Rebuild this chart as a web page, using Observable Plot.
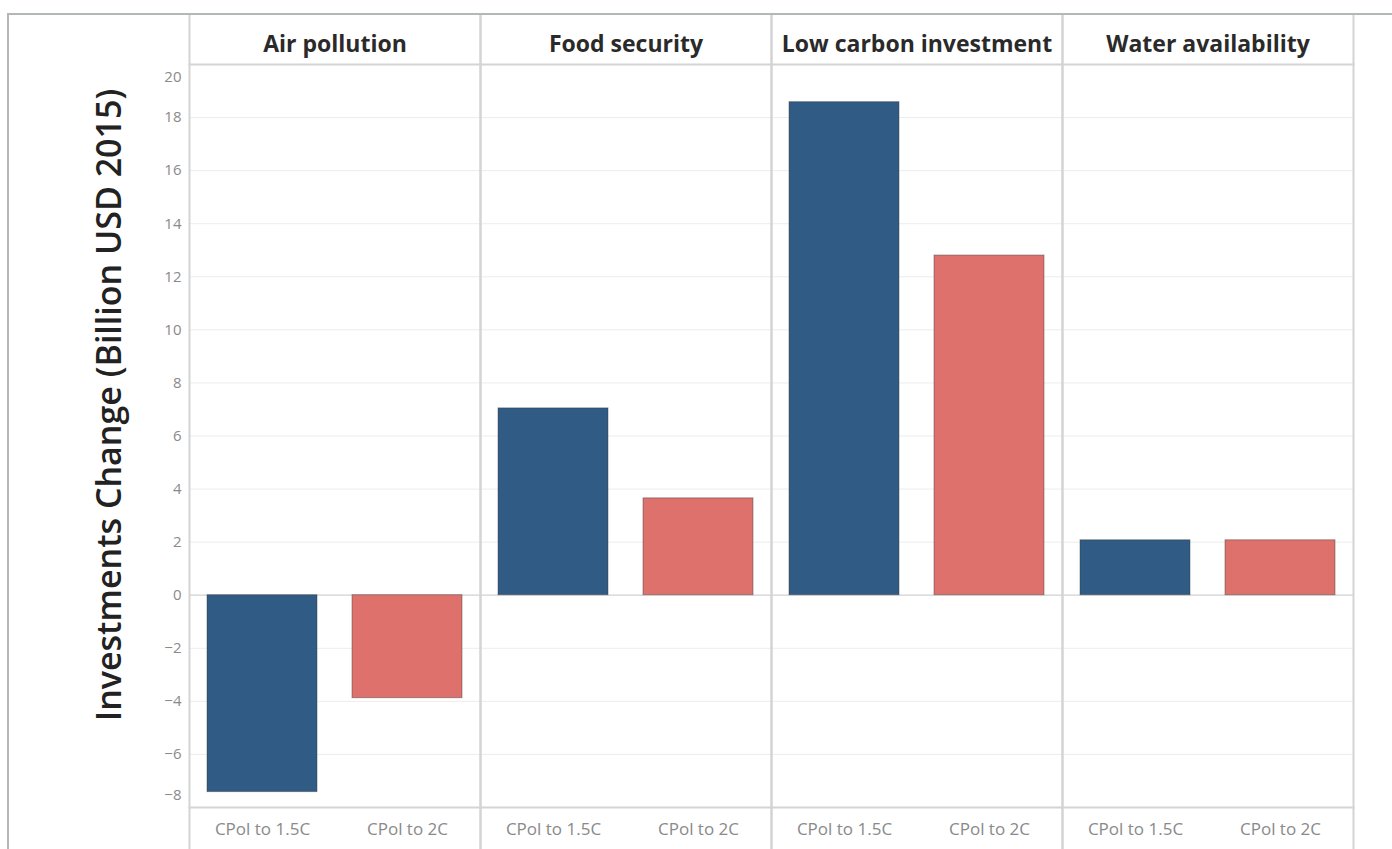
<!DOCTYPE html>
<html><head><meta charset="utf-8">
<script src="https://cdn.jsdelivr.net/npm/d3@7"></script>
<script src="https://cdn.jsdelivr.net/npm/@observablehq/plot@0.6"></script>
<style>
body{margin:0;background:#fff;}
#chart{position:absolute;left:7px;top:13px;border-top:2px solid #b3b8b6;border-left:2px solid #b3b8b6;}
#chart svg{display:block;}
</style></head><body><div id="chart"></div>
<script>
const categories = ["Air pollution", "Food security", "Low carbon investment", "Water availability"];
const scenarios = ["CPol to 1.5C", "CPol to 2C"];
const valuesTo15 = [-7.42, 7.04, 18.58, 2.07];
const valuesTo2 = [-3.88, 3.65, 12.8, 2.07];
const yTicks = [-8, -6, -4, -2, 0, 2, 4, 6, 8, 10, 12, 14, 16, 18, 20];
const yTitle = "Investments Change (Billion USD 2015)";
const colors = ["#2f5b84", "#df716d"];

const data = categories.flatMap((c, i) => [
  {category: c, scenario: scenarios[0], value: valuesTo15[i]},
  {category: c, scenario: scenarios[1], value: valuesTo2[i]}
]);

const lineColor = "#d4d4d4";
const font = "'Open Sans', sans-serif";

const chart = Plot.plot({
  width: 1383,
  height: 834,
  marginLeft: 179,
  marginRight: 39,
  marginTop: 49,
  marginBottom: 42,
  style: {fontFamily: font, background: "#fff"},
  fx: {domain: categories, padding: 0, label: null},
  x: {domain: scenarios, paddingInner: 0.24, paddingOuter: 0.12, label: null},
  y: {domain: [-8, 20], label: null},
  color: {domain: scenarios, range: colors},
  marks: [
    Plot.gridY(yTicks, {stroke: "#ececec", strokeOpacity: 1}),
    Plot.ruleY([0], {stroke: "#d6d6d6", strokeWidth: 1.2}),
    Plot.frame({anchor: "top", stroke: lineColor, strokeWidth: 2}),
    Plot.frame({anchor: "bottom", stroke: lineColor, strokeWidth: 2}),
    Plot.frame({anchor: "left", stroke: lineColor, strokeWidth: 2, insetTop: -49, insetBottom: -42}),
    Plot.frame({anchor: "right", stroke: lineColor, strokeWidth: 2, insetTop: -49, insetBottom: -42}),
    Plot.barY(data, {fx: "category", x: "scenario", y: "value", fill: "scenario", stroke: "#3a3a3a", strokeOpacity: 0.45, strokeWidth: 1}),
    Plot.axisFx({anchor: "top", tickSize: 0, tickPadding: 13, fontSize: 23, fontWeight: "bold", fill: "#2a2a2a", label: null}),
    Plot.axisX({anchor: "bottom", tickSize: 0, tickPadding: 15, fontSize: 17, fill: "#8a8a8a", label: null}),
    Plot.axisY(yTicks.filter(t => t !== 20 && t !== -8), {anchor: "left", tickSize: 0, tickPadding: 8, fontSize: 15, fill: "#8a8a8a", label: null}),
    Plot.axisY([20], {anchor: "left", tickSize: 0, tickPadding: 8, fontSize: 15, fill: "#8a8a8a", label: null, dy: 13}),
    Plot.axisY([-8], {anchor: "left", tickSize: 0, tickPadding: 8, fontSize: 15, fill: "#8a8a8a", label: null, dy: -12}),
    Plot.text([yTitle], {fx: () => categories[0], text: d => d, frameAnchor: "left", textAnchor: "middle", rotate: -90, dx: -79, dy: -31, fontSize: 34, fontWeight: 600, fill: "#222"})
  ]
});
document.getElementById("chart").append(chart);
</script></body></html>
